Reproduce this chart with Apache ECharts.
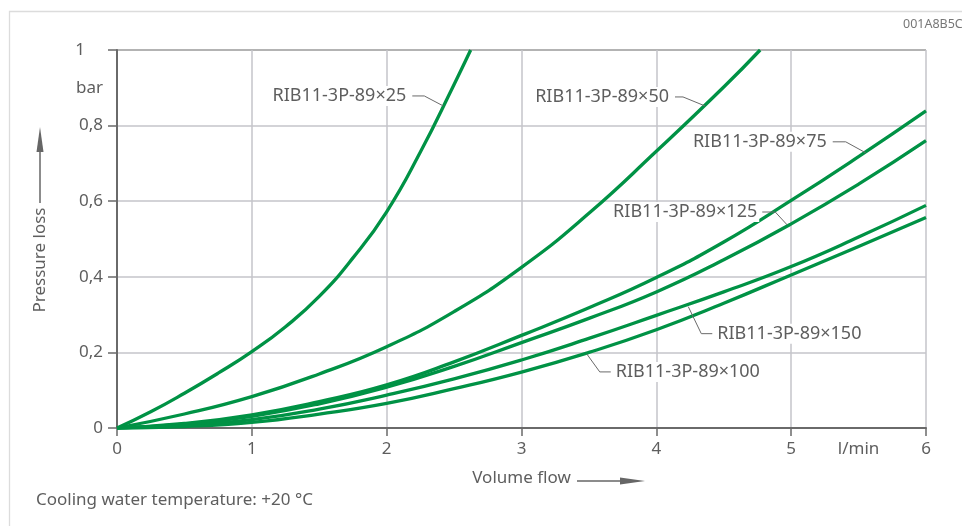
<!DOCTYPE html>
<html><head><meta charset="utf-8">
<script src="https://cdn.jsdelivr.net/npm/echarts@6/dist/echarts.min.js"></script>
<style>html,body{margin:0;padding:0;background:#fff}#c{width:962px;height:526px}</style>
</head><body><div id="c"></div>
<script>
// ---- data ----
const seriesNames = ['RIB11-3P-89×25','RIB11-3P-89×50','RIB11-3P-89×75','RIB11-3P-89×125','RIB11-3P-89×150','RIB11-3P-89×100'];
const flow25 = [0, 0.25, 0.5, 0.75, 1, 1.25, 1.5, 1.75, 2, 2.25, 2.5, 2.623];
const loss25 = [0, 0.043, 0.092, 0.145, 0.202, 0.268, 0.348, 0.45, 0.572, 0.73, 0.909, 1.0];
const flow50 = [0, 0.5, 1, 1.5, 2, 2.5, 3, 3.5, 4, 4.5, 4.77];
const loss50 = [0, 0.037, 0.083, 0.143, 0.215, 0.308, 0.425, 0.568, 0.732, 0.902, 1.0];
const flowS = [0, 0.5, 1, 1.5, 2, 2.5, 3, 3.5, 4, 4.5, 5, 5.5, 6];
const loss75  = [0, 0.012, 0.035, 0.07, 0.114, 0.175, 0.245, 0.318, 0.398, 0.492, 0.602, 0.718, 0.839];
const loss125 = [0, 0.010, 0.031, 0.064, 0.108, 0.163, 0.226, 0.29, 0.36, 0.445, 0.54, 0.645, 0.76];
const loss150 = [0, 0.006, 0.022, 0.05, 0.087, 0.13, 0.18, 0.237, 0.298, 0.36, 0.427, 0.505, 0.589];
const loss100 = [0, 0.004, 0.015, 0.037, 0.065, 0.104, 0.148, 0.2, 0.26, 0.33, 0.405, 0.48, 0.557];
// label anchor points on the curves [flow, loss]
const labelAnchors = [[2.42, 0.852],[4.361, 0.852],[5.553, 0.728],[4.971, 0.537],[4.237, 0.321],[3.484, 0.196]];
const yTickValues = [0, 0.2, 0.4, 0.6, 0.8, 1];
const xTickValues = [0, 1, 2, 3, 4, 5, 6];
const yUnit = 'bar', yUnitAt = 0.9;
const xUnit = 'l/min', xUnitAt = 5.5;
const yTitle = 'Pressure loss';
const xTitle = 'Volume flow';
const note = 'Cooling water temperature: +20 °C';
const code = '001A8B5C';

// ---- chart ----
const FONT = 'Noto Sans';
const TXT = '#5e5e5e';
const GREEN = '#009245';
const pair = (xs, ys) => xs.map((x, i) => [x, ys[i]]);
const curves = [pair(flow25, loss25), pair(flow50, loss50), pair(flowS, loss75), pair(flowS, loss125), pair(flowS, loss150), pair(flowS, loss100)];

const chart = echarts.init(document.getElementById('c'), null, {renderer: 'canvas'});
chart.setOption({
  animation: false,
  backgroundColor: '#fff',
  textStyle: {fontFamily: FONT},
  grid: {left: 117, right: 36, top: 50, bottom: 98},
  xAxis: {
    type: 'value', min: 0, max: 6, interval: 1,
    name: xTitle, nameLocation: 'middle', nameGap: 42,
    nameTextStyle: {fontFamily: FONT, fontSize: 17, color: TXT},
    axisLine: {show: true, lineStyle: {color: '#6a6a6a', width: 2}},
    axisTick: {show: true, length: 8, lineStyle: {color: '#6a6a6a', width: 1.5}},
    axisLabel: {margin: 13, fontFamily: FONT, fontSize: 17, color: TXT,
      formatter: v => xTickValues.includes(v) ? String(v) : ''},
    splitLine: {show: true, lineStyle: {color: '#c4c4ca', width: 1.5}}
  },
  yAxis: {
    type: 'value', min: 0, max: 1, interval: 0.2,
    axisLine: {show: true, lineStyle: {color: '#6a6a6a', width: 2}},
    axisTick: {show: true, length: 9, lineStyle: {color: '#6a6a6a', width: 1.5}},
    axisLabel: {margin: 14, fontFamily: FONT, fontSize: 17, color: TXT,
      formatter: v => {
        const hit = yTickValues.find(t => Math.abs(t - v) < 1e-9);
        if (hit === undefined) return '';
        if (hit === 1) return '{one|1}';
        return String(hit).replace('.', ',');
      },
      rich: {one: {fontFamily: FONT, fontSize: 17, color: TXT, padding: [0, 18, 0, 0]}}
    },
    splitLine: {show: true, lineStyle: {color: ['#c4c4ca','#c4c4ca','#c4c4ca','#c4c4ca','#c4c4ca','#9a9a9a'], width: 1.5}}
  },
  series: curves.map((d, i) => ({
    type: 'line', name: seriesNames[i], data: d, showSymbol: false, smooth: 0.5,
    lineStyle: {color: GREEN, width: 3.3}, itemStyle: {color: GREEN}, z: 3
  }))
});

const P = (x, y) => chart.convertToPixel({gridIndex: 0}, [x, y]);
const g = [];
// frame
g.push({type: 'rect', shape: {x: 9.5, y: 11.5, width: 1000, height: 600}, style: {fill: 'none', stroke: '#dcdcdc', lineWidth: 1.3}, z: 0, silent: true});
// code
g.push({type: 'text', x: 903, y: 24, style: {text: code, fontFamily: FONT, fontSize: 12.5, fill: '#777', textAlign: 'left', textVerticalAlign: 'middle'}});
// y unit
const pu = P(0, yUnitAt);
g.push({type: 'text', x: pu[0] - 14, y: pu[1], style: {text: yUnit, fontFamily: FONT, fontSize: 17, fill: TXT, textAlign: 'right', textVerticalAlign: 'middle'}});
// x unit
const px = P(xUnitAt, 0);
g.push({type: 'text', x: px[0], y: px[1] + 21, style: {text: xUnit, fontFamily: FONT, fontSize: 17, fill: TXT, textAlign: 'center', textVerticalAlign: 'middle'}});
// y title with arrow
g.push({type: 'text', x: 40, y: 260, rotation: Math.PI / 2, style: {text: yTitle, fontFamily: FONT, fontSize: 17, fill: TXT, textAlign: 'center', textVerticalAlign: 'middle'}});
g.push({type: 'line', shape: {x1: 40, y1: 203, x2: 40, y2: 150}, style: {stroke: '#666', lineWidth: 1.5}});
g.push({type: 'polygon', shape: {points: [[40, 127], [36.5, 152], [43.5, 152]]}, style: {fill: '#666'}});
// x title arrow
g.push({type: 'line', shape: {x1: 577, y1: 481, x2: 622, y2: 481}, style: {stroke: '#666', lineWidth: 1.5}});
g.push({type: 'polygon', shape: {points: [[645, 481], [620, 477.5], [620, 484.5]]}, style: {fill: '#666'}});
// note
g.push({type: 'text', x: 36, y: 500, style: {text: note, fontFamily: FONT, fontSize: 17, fill: TXT, textAlign: 'left', textVerticalAlign: 'middle'}});
// curve labels with leaders: [elbow dx, elbow dy, end dx, text dx, side]
const lay = [[-19, -10, -31, -35, 'right'], [-22, -9, -30, -34, 'right'], [-20, -11, -33, -37, 'right'], [-12, -13, -25, -28, 'right'], [13, 27, 24, 27, 'left'], [13, 18, 24, 27, 'left']];
labelAnchors.forEach((a, i) => {
  const p = P(a[0], a[1]);
  const L = lay[i];
  const ey = p[1] + L[1];
  g.push({type: 'polyline', shape: {points: [[p[0], p[1]], [p[0] + L[0], ey], [p[0] + L[2], ey]]}, style: {stroke: '#6a6a6a', lineWidth: 1, fill: 'none'}, z: 5});
  g.push({type: 'text', x: p[0] + L[3], y: ey, z: 4, style: {text: seriesNames[i], fontFamily: FONT, fontSize: 18, fill: TXT, textAlign: L[4], textVerticalAlign: 'middle', backgroundColor: '#fff', padding: [1, 2]}});
});
chart.setOption({graphic: g});
</script>
</body></html>
